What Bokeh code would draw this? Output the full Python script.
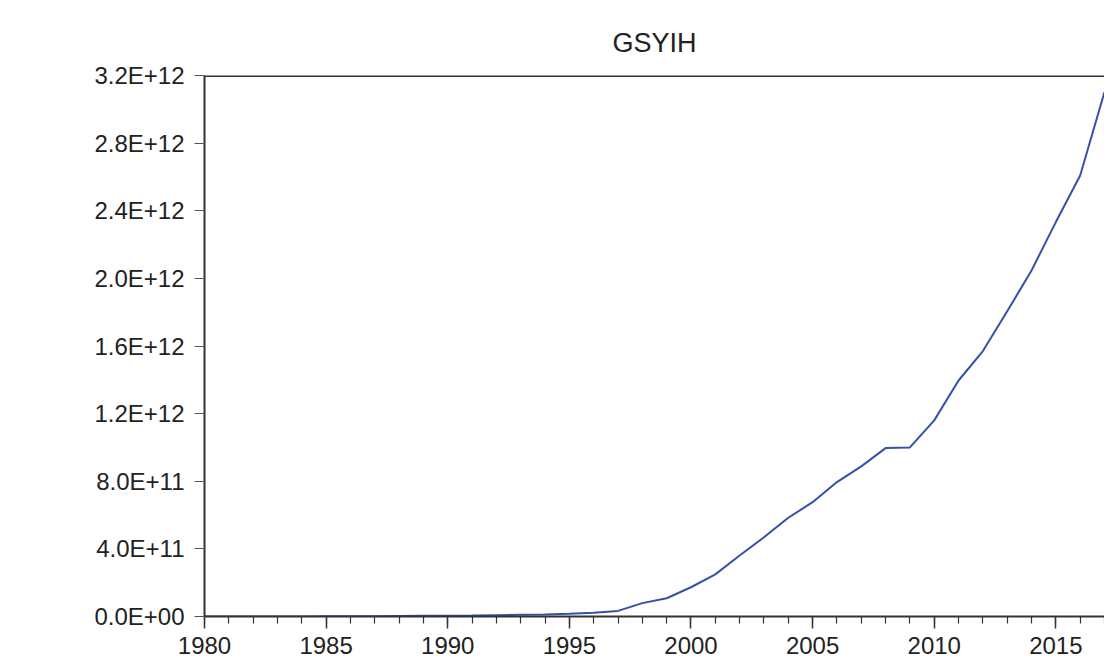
from bokeh.plotting import figure
from bokeh.models import Range1d, SingleIntervalTicker, FixedTicker, Span
from bokeh.embed import file_html
from bokeh.resources import INLINE

years = list(range(1980, 2018))
gsyih = [0.0002e12, 0.0003e12, 0.0004e12, 0.0005e12, 0.0007e12, 0.001e12, 0.0015e12,
         0.002e12, 0.003e12, 0.004e12, 0.005e12, 0.006e12, 0.008e12, 0.010e12,
         0.012e12, 0.016e12, 0.022e12, 0.033e12, 0.079e12, 0.108e12, 0.173e12,
         0.249e12, 0.361e12, 0.469e12, 0.584e12, 0.676e12, 0.795e12, 0.888e12,
         0.996e12, 1.000e12, 1.160e12, 1.396e12, 1.570e12, 1.805e12, 2.047e12,
         2.333e12, 2.609e12, 3.102e12]
y_ticks = [0.0, 0.4e12, 0.8e12, 1.2e12, 1.6e12, 2.0e12, 2.4e12, 2.8e12, 3.2e12]
title_text = "GSYIH"

FONT = "Liberation Sans"
TXT = "#222222"

Y0, Y1 = 0, 3.2e12

p = figure(width=1104, height=664, output_backend="svg", toolbar_location=None,
           x_range=Range1d(1980, 2017), y_range=Range1d(Y0, Y1),
           min_border_left=204, min_border_right=0, min_border_top=75,
           min_border_bottom=48, x_axis_location="below")
p.outline_line_color = None
p.grid.visible = False
p.background_fill_color = "white"

p.title.text = title_text
p.title.align = "center"
p.title.text_font = FONT
p.title.text_font_size = "27px"
p.title.text_font_style = "normal"
p.title.text_color = TXT
p.title.standoff = 36

# top border of the plot frame
p.add_layout(Span(location=Y1, dimension="width", line_color="#333333", line_width=3))

p.line(years, gsyih, line_color="#3550a8", line_width=2)

xa = p.xaxis[0]
xa.ticker = SingleIntervalTicker(interval=5, num_minor_ticks=5)
xa.axis_line_color = "#333333"
xa.axis_line_width = 2
xa.major_tick_line_color = "#333333"
xa.major_tick_line_width = 1.5
xa.major_tick_out = 12
xa.major_tick_in = 0
xa.minor_tick_line_color = "#333333"
xa.minor_tick_line_width = 1.2
xa.minor_tick_out = 7
xa.minor_tick_in = 0
xa.major_label_text_font = FONT
xa.major_label_text_font_size = "24px"
xa.major_label_text_color = TXT
xa.major_label_standoff = 8

ya = p.yaxis[0]
ya.ticker = FixedTicker(ticks=y_ticks)
ya.major_label_overrides = {v: f"{v:.1E}" for v in y_ticks}
ya.axis_line_color = "#333333"
ya.axis_line_width = 2
ya.major_tick_line_color = "#555555"
ya.major_tick_line_width = 1.2
ya.major_tick_out = 10
ya.major_tick_in = 0
ya.minor_tick_line_color = None
ya.major_label_text_font = FONT
ya.major_label_text_font_size = "24px"
ya.major_label_text_color = TXT
ya.major_label_standoff = 10

open("out.html", "w").write(file_html(p, INLINE))
